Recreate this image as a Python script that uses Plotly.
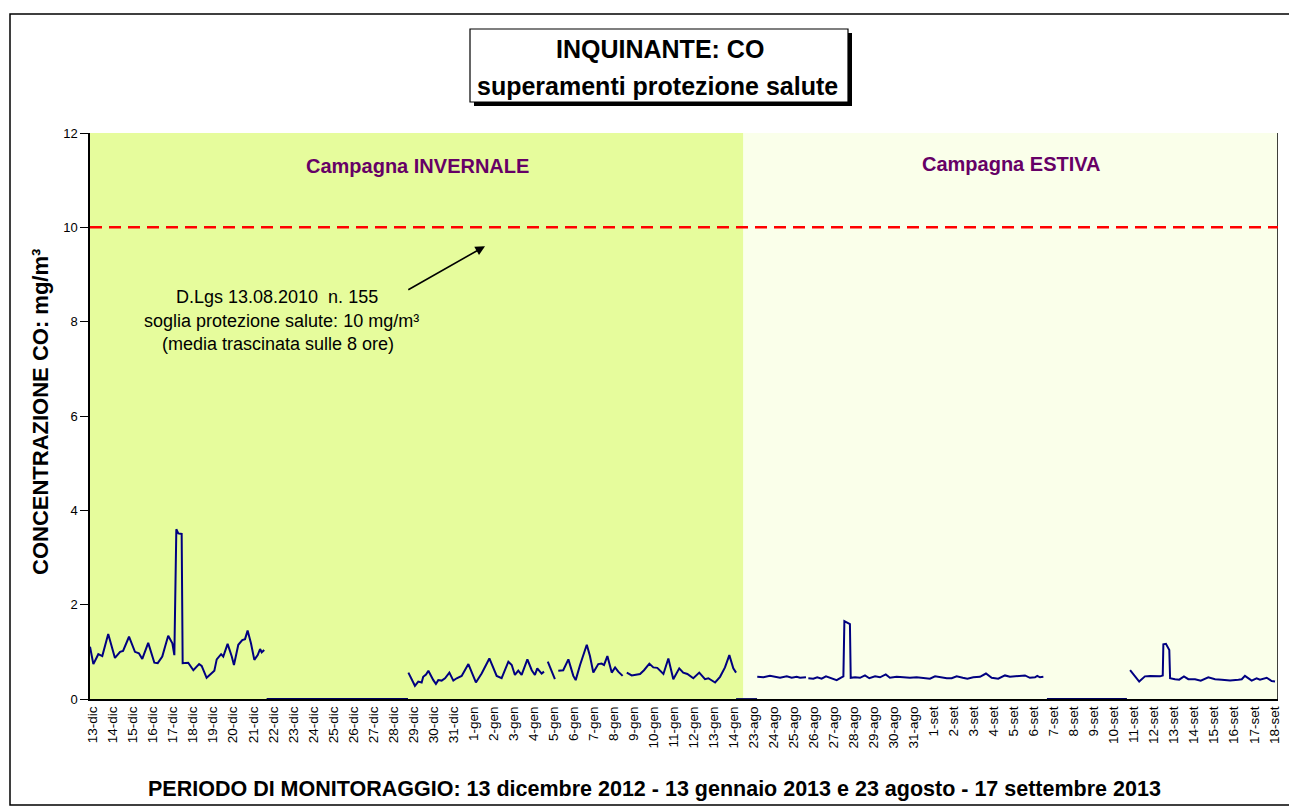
import plotly.graph_objects as go

# ---- tick labels (one per day on the category axis) ----
etichette_giorni = (
    [f"{d}-dic" for d in range(13, 32)]
    + [f"{d}-gen" for d in range(1, 15)]
    + [f"{d}-ago" for d in range(23, 32)]
    + [f"{d}-set" for d in range(1, 19)]
)

# ---- CO, 8-hour moving average (day index on axis, mg/m3) ----
invernale_1 = [(0.00, 1.11), (0.17, 0.74), (0.42, 0.95), (0.62, 0.91), (0.92, 1.38), (1.26, 0.87),
               (1.52, 1.00), (1.67, 1.02), (1.97, 1.32), (2.27, 1.00), (2.47, 0.97), (2.64, 0.85),
               (2.94, 1.19), (3.25, 0.77), (3.42, 0.76), (3.65, 0.90), (3.79, 1.11), (3.95, 1.34),
               (4.16, 1.18), (4.26, 0.93), (4.36, 3.60), (4.46, 3.51), (4.63, 3.50), (4.68, 0.76),
               (4.96, 0.77), (5.22, 0.61), (5.51, 0.74), (5.64, 0.70), (5.89, 0.45), (6.15, 0.56),
               (6.28, 0.60), (6.40, 0.84), (6.62, 0.95), (6.73, 0.90), (6.95, 1.17), (7.16, 0.90),
               (7.27, 0.72), (7.49, 1.15), (7.69, 1.25), (7.83, 1.27), (7.96, 1.45), (8.13, 1.18),
               (8.30, 0.83), (8.47, 0.93), (8.59, 1.06), (8.67, 0.99), (8.80, 1.04)]

invernale_2 = [(16.08, 0.56), (16.25, 0.40), (16.41, 0.28), (16.58, 0.37), (16.75, 0.35), (16.83, 0.47),
               (16.97, 0.52), (17.09, 0.60), (17.26, 0.44), (17.34, 0.40), (17.47, 0.32), (17.59, 0.40),
               (17.76, 0.39), (17.93, 0.44), (18.15, 0.56), (18.35, 0.39), (18.52, 0.44), (18.77, 0.49),
               (19.11, 0.74), (19.33, 0.51), (19.49, 0.35), (19.78, 0.54), (20.17, 0.86), (20.54, 0.49),
               (20.79, 0.44), (21.13, 0.79), (21.30, 0.72), (21.46, 0.51), (21.63, 0.60), (21.80, 0.51),
               (22.09, 0.84), (22.31, 0.61), (22.47, 0.51), (22.59, 0.65), (22.81, 0.54), (22.93, 0.58),
               (23.02, None), (23.12, 0.79), (23.48, 0.42), (23.56, None), (23.65, 0.60), (23.90, 0.61),
               (24.16, 0.84), (24.41, 0.49), (24.53, 0.40), (24.75, 0.72), (25.09, 1.15), (25.25, 0.91),
               (25.42, 0.56), (25.67, 0.74), (25.84, 0.75), (25.96, 0.72), (26.13, 0.91), (26.35, 0.56),
               (26.52, 0.67), (26.68, 0.58), (26.90, 0.49), (27.00, None), (27.11, 0.56), (27.36, 0.50),
               (27.78, 0.53), (27.98, 0.61), (28.25, 0.75), (28.45, 0.67), (28.65, 0.66), (28.96, 0.53),
               (29.21, 0.86), (29.46, 0.42), (29.76, 0.65), (29.96, 0.56), (30.17, 0.53), (30.47, 0.44),
               (30.77, 0.56), (31.06, 0.42), (31.23, 0.44), (31.40, 0.40), (31.57, 0.35), (31.82, 0.47),
               (32.07, 0.67), (32.29, 0.93), (32.49, 0.65), (32.63, 0.56)]

estiva_1 = [(33.70, 0.47), (34.01, 0.46), (34.34, 0.49), (34.60, 0.47), (34.85, 0.45), (35.19, 0.48),
            (35.44, 0.45), (35.69, 0.47), (35.86, 0.45), (36.16, 0.46), (36.22, None), (36.28, 0.44),
            (36.53, 0.43), (36.73, 0.46), (36.95, 0.43), (37.17, 0.48), (37.41, 0.44), (37.71, 0.40),
            (37.91, 0.45), (38.05, 0.48), (38.10, 1.65), (38.25, 1.62), (38.38, 1.59), (38.42, 0.45),
            (38.64, 0.46), (38.89, 0.45), (39.14, 0.50), (39.36, 0.44), (39.65, 0.48), (39.90, 0.46),
            (40.19, 0.52), (40.40, 0.45), (40.74, 0.47), (41.08, 0.46), (41.41, 0.45), (41.75, 0.46),
            (42.06, 0.45), (42.42, 0.43), (42.68, 0.48), (42.93, 0.46), (43.27, 0.44), (43.52, 0.44),
            (43.77, 0.48), (44.08, 0.45), (44.31, 0.43), (44.61, 0.46), (44.95, 0.47), (45.25, 0.54),
            (45.54, 0.45), (45.87, 0.43), (46.21, 0.50), (46.46, 0.47), (46.80, 0.48), (47.22, 0.50),
            (47.47, 0.45), (47.73, 0.46), (47.84, 0.49), (47.98, 0.46), (48.15, 0.47)]

estiva_2 = [(52.53, 0.61), (52.78, 0.47), (52.99, 0.37), (53.28, 0.48), (53.54, 0.49), (54.04, 0.48),
            (54.18, 0.50), (54.21, 1.16), (54.34, 1.17), (54.51, 1.04), (54.55, 0.44), (54.80, 0.42),
            (55.01, 0.41), (55.25, 0.48), (55.47, 0.42), (55.81, 0.42), (56.10, 0.39), (56.48, 0.46),
            (56.82, 0.42), (57.16, 0.41), (57.58, 0.39), (58.00, 0.41), (58.17, 0.42), (58.33, 0.49),
            (58.50, 0.44), (58.67, 0.39), (58.92, 0.44), (59.09, 0.41), (59.43, 0.45), (59.68, 0.38),
            (59.85, 0.37)]

# periods without data, drawn by the original chart as a zero line along the axis
periodi_senza_dati = [(8.92, 16.06), (32.63, 33.69), (48.33, 52.37)]

soglia = 10.0
giorni_invernali = 33
giorni_totali = 60

FONT = "Liberation Sans, Arial, sans-serif"

# page body adds an 8px margin: figure drawn 8px smaller, plot area placed to match
W, H = 1289, 803
ML, MR, MT, MB = 82, 19, 125, 112
PW = W - ML - MR   # 1188
PH = H - MT - MB   # 566


def px(x):  # screen x pixel -> paper
    return (x - 8 - ML) / PW


def py(y):  # screen y pixel -> paper
    return (H - MB - (y - 8)) / PH


fig = go.Figure()

# zero line where data are missing
zx, zy = [], []
for a, b in periodi_senza_dati:
    zx += [a, b, None]
    zy += [0, 0, None]
fig.add_trace(go.Scatter(x=zx, y=zy, mode="lines", connectgaps=False,
                         line=dict(color="#000060", width=1.8), hoverinfo="skip",
                         showlegend=False, cliponaxis=False))

xs, ys = [], []
for seg in (invernale_1, invernale_2, estiva_1, estiva_2):
    for gx, gy in seg:
        xs.append(gx)
        ys.append(gy)
    xs.append(seg[-1][0] + 0.05)
    ys.append(None)

fig.add_trace(go.Scatter(x=xs, y=ys, mode="lines", connectgaps=False,
                         line=dict(color="#000080", width=2), hoverinfo="skip",
                         showlegend=False))

shapes = [
    # campaign backgrounds
    dict(type="rect", xref="x", yref="y", x0=0, x1=giorni_invernali, y0=0, y1=12,
         fillcolor="#E6FC9C", line=dict(width=0), layer="below"),
    dict(type="rect", xref="x", yref="y", x0=giorni_invernali, x1=giorni_totali, y0=0, y1=12,
         fillcolor="#FAFFEA", line=dict(width=0), layer="below"),
    # right edge of the plot area
    dict(type="line", xref="x", yref="y", x0=giorni_totali, x1=giorni_totali, y0=0, y1=12,
         line=dict(color="black", width=1.5)),
    # threshold
    dict(type="line", xref="x", yref="y", x0=0, x1=giorni_totali, y0=soglia, y1=soglia,
         line=dict(color="#FF0000", width=2.5, dash="12px,7px")),
    # outer chart border
    dict(type="rect", xref="paper", yref="paper", x0=px(10), x1=px(1300), y0=py(805), y1=py(14),
         line=dict(color="black", width=1.5), fillcolor="rgba(0,0,0,0)"),
    # title shadow + box
    dict(type="rect", xref="paper", yref="paper", x0=px(474), x1=px(852), y0=py(106), y1=py(33),
         line=dict(width=0), fillcolor="black"),
    dict(type="rect", xref="paper", yref="paper", x0=px(470), x1=px(848), y0=py(102), y1=py(29),
         line=dict(color="black", width=1.2), fillcolor="white"),
]

annotations = [
    dict(text="<b>INQUINANTE: CO</b>", xref="paper", yref="paper", x=px(660), y=py(49),
         showarrow=False, font=dict(family=FONT, size=25, color="black"),
         xanchor="center", yanchor="middle"),
    dict(text="<b>superamenti protezione salute</b>", xref="paper", yref="paper", x=px(657), y=py(86),
         showarrow=False, font=dict(family=FONT, size=25, color="black"),
         xanchor="center", yanchor="middle"),
    dict(text="<b>Campagna INVERNALE</b>", xref="paper", yref="paper", x=px(417), y=py(166),
         showarrow=False, font=dict(family=FONT, size=20, color="#660066"),
         xanchor="center", yanchor="middle"),
    dict(text="<b>Campagna ESTIVA</b>", xref="paper", yref="paper", x=px(1011), y=py(164),
         showarrow=False, font=dict(family=FONT, size=20, color="#660066"),
         xanchor="center", yanchor="middle"),
    dict(text="D.Lgs 13.08.2010  n. 155", xref="paper", yref="paper", x=px(277), y=py(297),
         showarrow=False, font=dict(family=FONT, size=18, color="black"),
         xanchor="center", yanchor="middle"),
    dict(text="soglia protezione salute: 10 mg/m³", xref="paper", yref="paper", x=px(281), y=py(321),
         showarrow=False, font=dict(family=FONT, size=18, color="black"),
         xanchor="center", yanchor="middle"),
    dict(text="(media trascinata sulle 8 ore)", xref="paper", yref="paper", x=px(278), y=py(344),
         showarrow=False, font=dict(family=FONT, size=18, color="black"),
         xanchor="center", yanchor="middle"),
    # arrow towards the threshold
    dict(text="", x=19.95, y=9.60, xref="x", yref="y", ax=16.0, ay=8.66, axref="x", ayref="y",
         showarrow=True, arrowhead=2, arrowsize=1.2, arrowwidth=1.6, arrowcolor="black"),
    # axis titles
    dict(text="<b>CONCENTRAZIONE CO: mg/m³</b>", xref="paper", yref="paper", x=px(40),
         y=py(412), textangle=-90, showarrow=False, font=dict(family=FONT, size=22, color="black"),
         xanchor="center", yanchor="middle"),
    dict(text="<b>PERIODO DI MONITORAGGIO: 13 dicembre 2012 - 13 gennaio 2013 e 23 agosto - 17 settembre 2013</b>",
         xref="paper", yref="paper", x=px(654), y=py(789), showarrow=False,
         font=dict(family=FONT, size=21.5, color="black"), xanchor="center", yanchor="middle"),
]

# labels are spaced slightly wider than one day (20.02 px vs 19.8 px per day)
passo_etichette = 20.02 / 19.8
fig.update_layout(
    width=W, height=H,
    margin=dict(l=ML, r=MR, t=MT, b=MB),
    paper_bgcolor="white", plot_bgcolor="white",
    shapes=shapes, annotations=annotations,
    showlegend=False,
    xaxis=dict(range=[0, giorni_totali], tickmode="array",
               tickvals=[0.15 + i * passo_etichette for i in range(len(etichette_giorni))],
               ticktext=etichette_giorni, tickangle=-90,
               tickfont=dict(family=FONT, size=13.5, color="black"),
               showgrid=False, zeroline=False, showline=True, linecolor="black", linewidth=2,
               ticks="", fixedrange=True, layer="below traces"),
    yaxis=dict(range=[0, 12], tickvals=[0, 2, 4, 6, 8, 10, 12],
               tickfont=dict(family=FONT, size=13, color="black"),
               showgrid=False, zeroline=False, showline=True, linecolor="black", linewidth=1.5,
               ticks="outside", ticklen=8, tickcolor="black", tickwidth=1, fixedrange=True),
)

fig.write_html("out.html")
